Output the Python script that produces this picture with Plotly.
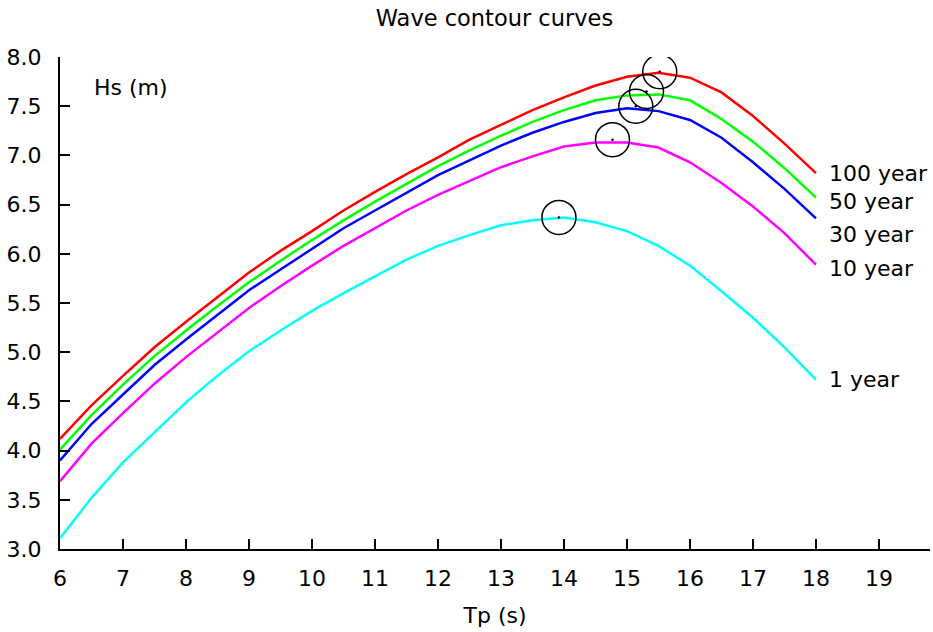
import plotly.graph_objects as go

tp = [6.0, 6.5, 7.0, 7.5, 8.0, 8.5, 9.0, 9.5, 10.0, 10.5, 11.0, 11.5, 12.0,
      12.5, 13.0, 13.5, 14.0, 14.5, 15.0, 15.5, 16.0, 16.5, 17.0, 17.5, 18.0]

hs_100 = [4.12, 4.46, 4.76, 5.05, 5.31, 5.56, 5.81, 6.03, 6.23, 6.44, 6.63, 6.81, 6.98,
          7.16, 7.31, 7.46, 7.59, 7.71, 7.80, 7.84, 7.79, 7.64, 7.40, 7.12, 6.82]
hs_50 = [4.01, 4.36, 4.67, 4.96, 5.22, 5.47, 5.71, 5.93, 6.14, 6.34, 6.53, 6.71, 6.89,
         7.05, 7.20, 7.34, 7.46, 7.56, 7.61, 7.62, 7.56, 7.37, 7.14, 6.87, 6.57]
hs_30 = [3.90, 4.27, 4.57, 4.87, 5.13, 5.38, 5.63, 5.84, 6.05, 6.26, 6.44, 6.62, 6.80,
         6.95, 7.10, 7.23, 7.34, 7.43, 7.48, 7.45, 7.36, 7.18, 6.93, 6.66, 6.36]
hs_10 = [3.69, 4.07, 4.38, 4.68, 4.95, 5.20, 5.45, 5.67, 5.88, 6.08, 6.26, 6.44, 6.60,
         6.74, 6.88, 6.99, 7.09, 7.13, 7.13, 7.08, 6.93, 6.72, 6.48, 6.21, 5.89]
hs_1 = [3.11, 3.52, 3.88, 4.19, 4.49, 4.76, 5.01, 5.22, 5.42, 5.60, 5.77, 5.94, 6.08,
        6.19, 6.29, 6.34, 6.37, 6.32, 6.23, 6.08, 5.88, 5.62, 5.35, 5.05, 4.72]

series_names = ["100 year", "50 year", "30 year", "10 year", "1 year"]
series_values = [hs_100, hs_50, hs_30, hs_10, hs_1]
series_colors = ["#ff0000", "#00ff00", "#0000ff", "#ff00ff", "#00ffff"]

# design points (circled)
peak_tp = [15.52, 15.31, 15.14, 14.77, 13.92]
peak_hs = [7.85, 7.65, 7.50, 7.16, 6.37]

# label positions
label_tp = [18.17, 18.17, 18.17, 18.17, 18.17]
label_hs = [6.82, 6.53, 6.20, 5.85, 4.72]

x_ticks = list(range(6, 20))
y_ticks = [3.0, 3.5, 4.0, 4.5, 5.0, 5.5, 6.0, 6.5, 7.0, 7.5, 8.0]

FONT = "DejaVu Sans"
FS = 22

fig = go.Figure()
for name, vals, col in zip(series_names, series_values, series_colors):
    fig.add_trace(go.Scatter(x=tp, y=vals, mode="lines", name=name,
                             line=dict(color=col, width=2.5), showlegend=False))

fig.add_trace(go.Scatter(x=peak_tp, y=peak_hs, mode="markers", showlegend=False,
                         marker=dict(symbol="circle-open", size=34,
                                     line=dict(color="black", width=1.5), color="black")))
fig.add_trace(go.Scatter(x=peak_tp, y=peak_hs, mode="markers", showlegend=False,
                         marker=dict(symbol="circle", size=2.5, color="black")))

for name, lx, ly in zip(series_names, label_tp, label_hs):
    fig.add_annotation(x=lx, y=ly, text=name, showarrow=False, xanchor="left",
                       yanchor="middle", font=dict(family=FONT, size=FS, color="black"))

fig.add_annotation(x=6.5, y=7.69, text="Hs (m)", showarrow=False, xanchor="left",
                   yanchor="middle", font=dict(family=FONT, size=FS, color="black"))

fig.update_layout(
    width=933, height=632,
    margin=dict(l=60, r=3, t=57, b=83),
    paper_bgcolor="white", plot_bgcolor="white",
    font=dict(family=FONT, size=FS, color="black"),
    title=dict(text="Wave contour curves", x=0.53, xanchor="center", y=0.972, yanchor="middle",
               font=dict(family=FONT, size=22.5, color="black")),
    xaxis=dict(range=[6, 19.81], tickvals=x_ticks, ticks="inside", ticklen=10, tickwidth=1.5,
               tickcolor="black", showline=True, linecolor="black", linewidth=2,
               showgrid=False, zeroline=False, ticklabelstandoff=9,
               title=dict(text="Tp (s)", standoff=17, font=dict(family=FONT, size=FS))),
    yaxis=dict(range=[3, 8], tickvals=y_ticks, tickformat=".1f", ticks="inside", ticklen=10,
               tickwidth=1.5, tickcolor="black", showline=True, linecolor="black", linewidth=2,
               showgrid=False, zeroline=False, ticklabelstandoff=12),
)

fig.write_html("out.html")
